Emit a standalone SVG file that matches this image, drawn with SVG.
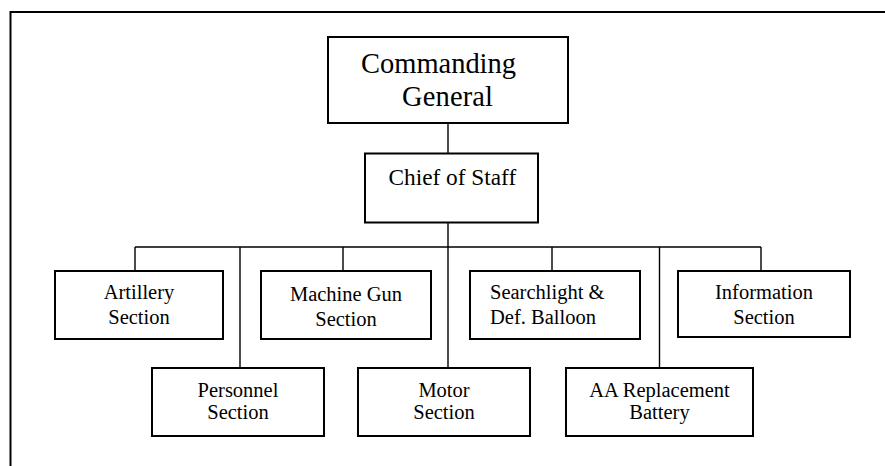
<svg xmlns="http://www.w3.org/2000/svg" width="885" height="466" viewBox="0 0 885 466" font-family="'Liberation Serif', 'Times New Roman', Times, serif">
<style>
.box{fill:#fff;stroke:#000;stroke-width:2}
.t{font-family:'Liberation Serif','Times New Roman',Times,serif;font-size:20.5px;fill:#000;text-anchor:middle}
.ts{text-anchor:start}
.c{fill:none;stroke:#000;stroke-width:1.4}
</style>
<rect width="885" height="466" fill="#fff"/>
<path d="M10.5,470 V12 H890" fill="none" stroke="#000" stroke-width="2"/>
<g id="connectors">
<path class="c" d="M448,123 V153 M448,223 V368 M135,247 H761 M135,247 V271 M343,247 V271 M552,247 V271 M761,247 V271 M240,247 V368 M659.5,247 V368"/>
</g>
<g id="commanding-general">
<rect class="box" x="328" y="37" width="240" height="86"/>
<text class="t ts" x="361" y="73" style="font-size:28.5px" textLength="155">Commanding</text>
<text class="t ts" x="402" y="106" style="font-size:28.5px" textLength="91">General</text>
</g>
<g id="chief-of-staff">
<rect class="box" x="365" y="153.5" width="173" height="69"/>
<text class="t ts" x="388.5" y="185" style="font-size:23.3px">Chief of Staff</text>
</g>
<g id="artillery">
<rect class="box" x="55" y="271" width="168" height="68"/>
<text class="t" x="139" y="299">Artillery</text>
<text class="t" x="139" y="324">Section</text>
</g>
<g id="machine-gun">
<rect class="box" x="261" y="271" width="170" height="68"/>
<text class="t" x="346" y="301">Machine Gun</text>
<text class="t" x="346" y="326">Section</text>
</g>
<g id="searchlight">
<rect class="box" x="470" y="271" width="170" height="68"/>
<text class="t ts" x="490" y="299">Searchlight &amp;</text>
<text class="t ts" x="490" y="324">Def. Balloon</text>
</g>
<g id="information">
<rect class="box" x="678" y="271" width="172" height="66"/>
<text class="t" x="764" y="299">Information</text>
<text class="t" x="764" y="324">Section</text>
</g>
<g id="personnel">
<rect class="box" x="152" y="368" width="172" height="68"/>
<text class="t" x="238" y="397">Personnel</text>
<text class="t" x="238" y="419">Section</text>
</g>
<g id="motor">
<rect class="box" x="358" y="368" width="172" height="68"/>
<text class="t" x="444" y="397">Motor</text>
<text class="t" x="444" y="419">Section</text>
</g>
<g id="aa-replacement">
<rect class="box" x="566" y="368" width="187" height="68"/>
<text class="t" x="659.5" y="397">AA Replacement</text>
<text class="t" x="659.5" y="419">Battery</text>
</g>
</svg>
